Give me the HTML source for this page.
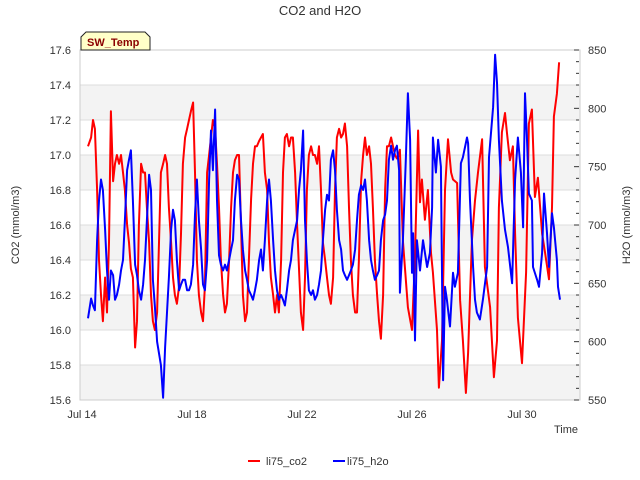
<!DOCTYPE html>
<html><head><meta charset="utf-8"><style>
body{margin:0;background:#fff;}
svg{display:block;font-family:"Liberation Sans","DejaVu Sans",sans-serif;}
</style></head><body>
<svg id="chart" width="640" height="480" viewBox="0 0 640 480">
<text x="320" y="15" text-anchor="middle" font-size="13" fill="#333">CO2 and H2O</text>
<g id="bands"></g>
<g id="grid"></g>
<rect x="80" y="50" width="500" height="350" fill="none" stroke="#ccc"/>
<g id="axes"></g>
<g id="series"></g>
<text x="19" y="225" font-size="11" fill="#333" text-anchor="middle" transform="rotate(-90 19 225)">CO2 (mmol/m3)</text>
<text x="630" y="225" font-size="11" fill="#333" text-anchor="middle" transform="rotate(-90 630 225)">H2O (mmol/m3)</text>
<text x="566" y="433" font-size="11" fill="#333" text-anchor="middle">Time</text>
<g>
<path d="M81,50 L81,37 L86,32 L145,32 L150,37 L150,50 Z" fill="#ffffc8" stroke="#222" stroke-width="1"/>
<text x="87" y="46" font-size="11" font-weight="bold" fill="#8b0000">SW_Temp</text>
</g>
<g>
<g>
<line x1="248" y1="461" x2="260" y2="461" stroke="#f00" stroke-width="2"/>
<text x="266" y="465" font-size="11" fill="#333">li75_co2</text>
</g>
<g>
<line x1="333" y1="461" x2="345" y2="461" stroke="#00f" stroke-width="2"/>
<text x="347" y="465" font-size="11" fill="#333">li75_h2o</text>
</g>
</g>
</svg>
<script>
const xTickLabels = ["Jul 14","Jul 18","Jul 22","Jul 26","Jul 30"];
const xTickDays = [0,4,8,12,16];
const leftTicks = [15.6,15.8,16.0,16.2,16.4,16.6,16.8,17.0,17.2,17.4,17.6];
const rightTicks = [550,600,650,700,750,800,850];
const timesA = [0.22,0.33,0.40,0.47,0.55,0.62,0.69,0.76,0.84,0.91,0.98,1.05,1.13,1.20,1.27,1.35,1.42,1.49,1.56,1.64,1.71,1.78,1.85,1.93,2.00,2.07,2.15,2.22,2.29,2.36,2.44,2.51,2.58,2.65,2.73,2.80,2.87,2.95,3.02,3.09,3.16,3.24,3.31,3.38,3.45,3.53,3.60,3.67,3.75,3.82,3.89,3.96,4.04,4.11,4.18,4.25,4.33,4.40,4.47,4.55,4.62,4.69,4.76,4.84,4.91,4.98,5.05,5.13,5.20,5.27,5.35,5.42,5.49,5.56,5.64,5.71,5.78,5.85,5.93,6.00,6.07,6.15,6.22,6.29,6.36,6.44,6.51,6.58,6.65,6.73,6.80,6.87,6.95,7.02,7.09,7.16,7.24,7.31,7.38,7.45,7.53,7.60,7.67,7.75,7.82,7.89,7.96,8.04,8.11,8.18,8.25,8.33,8.40,8.47,8.55,8.62,8.69,8.76,8.84,8.91,8.98,9.05,9.13,9.20,9.27,9.35,9.42,9.49,9.56,9.64,9.71,9.78,9.85,9.93,10.00,10.07,10.15,10.22,10.29,10.36,10.44,10.51,10.58,10.65,10.73,10.80,10.87,10.95,11.02,11.09,11.16,11.24,11.31,11.38,11.45,11.53];
const co2A = [17.05,17.1,17.2,17.15,16.8,16.4,16.2,16.05,16.3,16.1,16.5,17.25,16.85,16.95,17.0,16.95,17.0,16.9,16.8,16.6,16.5,16.35,16.3,15.9,16.05,16.6,16.95,16.9,16.9,16.7,16.5,16.2,16.05,16.0,16.1,16.5,16.9,16.95,17.0,16.95,16.7,16.5,16.3,16.2,16.15,16.25,16.55,16.95,17.1,17.15,17.2,17.25,17.3,16.9,16.4,16.2,16.1,16.05,16.25,16.9,17.0,17.1,17.2,17.15,16.95,16.7,16.4,16.2,16.1,16.15,16.4,16.7,16.9,16.97,17.0,17.0,16.6,16.2,16.05,16.1,16.4,16.75,16.95,17.05,17.05,17.08,17.1,17.12,16.9,16.8,16.5,16.3,16.2,16.1,16.2,16.1,16.4,16.9,17.1,17.12,17.05,17.1,17.1,16.9,16.6,16.35,16.1,16.0,16.3,16.8,17.0,17.05,17.0,17.0,16.95,17.05,16.8,16.5,16.4,16.3,16.2,16.15,16.3,16.8,17.1,17.15,17.1,17.12,17.18,17.05,16.7,16.4,16.2,16.1,16.1,16.4,16.85,17.0,17.1,17.0,17.05,16.95,16.7,16.4,16.2,16.05,15.95,16.2,16.8,17.05,17.05,17.1,17.05,17.0,16.98,17.0];
const h2oA = [620,637,631,627,687,721,739,730,696,661,636,661,657,636,640,649,661,670,704,747,756,764,721,666,657,644,636,649,670,704,743,730,653,630,600,590,580,552,595,625,655,696,713,704,670,644,649,653,653,644,644,649,666,709,739,704,679,649,644,670,739,781,747,799,721,674,666,661,666,661,670,679,687,721,743,739,704,679,661,653,644,640,636,644,653,670,679,661,687,721,739,721,687,661,644,636,640,636,631,644,661,670,687,696,704,730,747,781,704,670,644,640,644,636,640,649,661,687,713,726,721,756,764,747,713,687,679,661,657,653,657,661,666,679,704,726,734,730,739,721,687,670,661,653,657,661,687,704,709,721,756,768,756,764,768,747];
const timesCo2B = [11.56,11.67,11.85,12.00,12.11,12.22,12.29,12.36,12.47,12.58,12.69,12.76,12.91,12.98,13.09,13.20,13.31,13.42,13.49,13.64,13.75,13.85,13.96,14.04,14.18,14.29,14.40,14.55,14.65,14.84,14.98,15.09,15.16,15.27,15.38,15.45,15.56,15.67,15.75,15.85,16.00,16.15,16.25,16.36,16.47,16.58,16.73,16.84,16.98,17.09,17.16,17.27,17.35];
const co2B = [17.03,16.51,16.13,16.0,16.42,17.14,16.73,16.86,16.63,16.8,16.44,16.33,16.0,15.67,15.94,16.8,17.09,16.9,16.86,16.84,16.17,15.94,15.64,15.87,16.51,16.74,16.9,17.09,16.36,16.13,15.73,15.94,16.7,17.13,17.24,17.13,16.97,17.05,16.55,16.07,15.81,16.33,17.18,17.26,16.76,16.87,16.55,16.44,16.29,16.7,17.22,17.35,17.53];
const timesH2oB = [11.56,11.67,11.78,11.85,11.93,12.00,12.04,12.11,12.18,12.29,12.40,12.55,12.65,12.73,12.76,12.87,12.95,13.05,13.13,13.20,13.27,13.38,13.49,13.56,13.67,13.78,13.85,14.00,14.04,14.11,14.22,14.29,14.36,14.47,14.58,14.73,14.80,14.95,15.02,15.09,15.16,15.27,15.38,15.49,15.64,15.75,15.85,15.96,16.04,16.11,16.18,16.25,16.36,16.40,16.55,16.62,16.73,16.80,16.91,16.98,17.09,17.16,17.27,17.31,17.38];
const h2oB = [642,687,758,813,773,659,693,601,687,661,687,664,676,715,775,745,773,750,567,647,636,613,659,647,659,753,758,775,770,721,664,636,625,619,636,664,758,801,846,822,773,721,696,681,650,739,775,745,698,813,773,727,721,664,653,647,676,727,693,664,710,698,670,647,636];

const PL=80, PR=580, PT=50, PB=400;
const xS = d => 82 + d * (522 - 82) / 16;
const yL = v => PB - (v - 15.6) / (17.6 - 15.6) * (PB - PT);
const yR = v => PB - (v - 550) / (850 - 550) * (PB - PT);
const NS = "http://www.w3.org/2000/svg";
function mk(tag, attrs, parent){const e=document.createElementNS(NS,tag);for(const k in attrs)e.setAttribute(k,attrs[k]);parent.appendChild(e);return e;}
const bands=document.getElementById('bands'), grid=document.getElementById('grid'), axes=document.getElementById('axes'), series=document.getElementById('series');
for(let i=0;i<leftTicks.length-1;i++){
  if(i%2===0){
    const r=mk('rect',{x:PL,y:yL(leftTicks[i+1]),width:PR-PL,height:yL(leftTicks[i])-yL(leftTicks[i+1]),fill:'#f3f3f3'},bands);
    
    
  }
}
leftTicks.forEach(v=>{
  const l=mk('line',{x1:PL,x2:PR,y1:yL(v),y2:yL(v),stroke:'#ddd','stroke-width':1},grid);
  
  
  const t=mk('text',{x:PL-9,y:yL(v)+4,'text-anchor':'end','font-size':11,fill:'#333'},axes);
  t.textContent=v.toFixed(1);
  
  
});
rightTicks.forEach(v=>{
  const t=mk('text',{x:PR+8,y:yR(v)+4,'font-size':11,fill:'#333'},axes);
  t.textContent=v;
  
  
});
for(let v=550; v<=850; v+=10){
  const major = v%50===0;
  const l=mk('line',{x1:major?PR-6:PR-4,x2:PR-1,y1:yR(v),y2:yR(v),stroke:'#333','stroke-width':1},axes);
  
  
}
xTickDays.forEach((d,i)=>{
  const t=mk('text',{x:xS(d),y:418,'text-anchor':'middle','font-size':11,fill:'#333'},axes);
  t.textContent=xTickLabels[i];
  
  
});
function drawLine(ts, vs, ys, color, name){
  const n=Math.min(ts.length,vs.length);
  let d='';
  for(let i=0;i<n;i++) d += (i?'L':'M') + xS(ts[i]).toFixed(1) + ',' + ys(vs[i]).toFixed(1);
  const p=mk('path',{d:d,fill:'none',stroke:color,'stroke-width':2,'stroke-linejoin':'round'},series);
  
  
}
drawLine(timesA.concat(timesCo2B), co2A.concat(co2B), yL, '#f00', 'co2-line');
drawLine(timesA.concat(timesH2oB), h2oA.concat(h2oB), yR, '#00f', 'h2o-line');
</script>
</body></html>
